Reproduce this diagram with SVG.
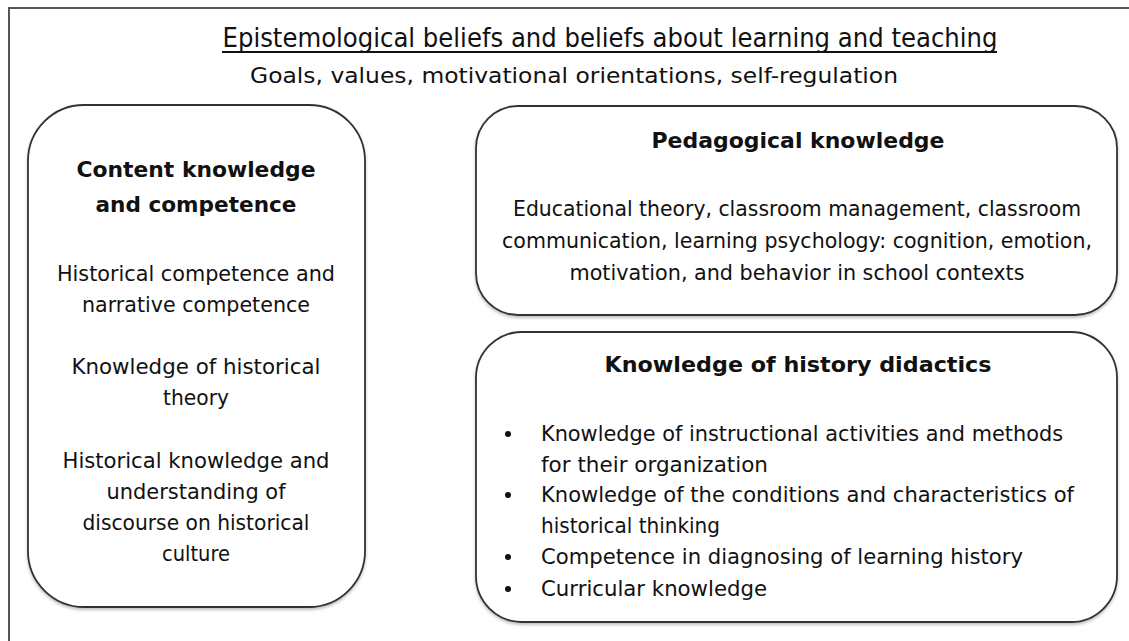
<svg xmlns="http://www.w3.org/2000/svg" width="1129" height="641" viewBox="0 0 1129 641">
  <defs>
    <filter id="soft" x="-5%" y="-5%" width="110%" height="115%">
      <feDropShadow dx="0" dy="2" stdDeviation="1.5" flood-color="#000" flood-opacity="0.25"/>
    </filter>
    <style>
      text { font-family: "DejaVu Sans", "Liberation Sans", sans-serif; fill: #111; }
      .title { font-size: 26px; }
      .sub { font-size: 21px; }
      .head { font-size: 22px; font-weight: bold; }
      .body { font-size: 21px; }
      .box { fill: #fff; stroke: #333; stroke-width: 1.8; filter: url(#soft); }
      .frame { fill: none; stroke: #555; stroke-width: 2; }
    </style>
  </defs>

  <rect width="1129" height="641" fill="#fff"/>

  <!-- outer frame, running off the right and bottom edges -->
  <path class="frame" d="M9,645 V8 H1135"/>

  <g id="header">
    <text class="title" x="610" y="47" text-anchor="middle" textLength="775" lengthAdjust="spacingAndGlyphs">Epistemological beliefs and beliefs about learning and teaching</text>
    <line x1="222" y1="52" x2="997" y2="52" stroke="#111" stroke-width="1.8"/>
    <text class="sub" x="574" y="83" text-anchor="middle" textLength="648" lengthAdjust="spacingAndGlyphs">Goals, values, motivational orientations, self-regulation</text>
  </g>

  <g id="content-knowledge">
    <rect class="box" x="28" y="105" width="337" height="502" rx="56" ry="56"/>
    <text class="head" x="196" y="177" text-anchor="middle" textLength="239" lengthAdjust="spacingAndGlyphs">Content knowledge</text>
    <text class="head" x="196" y="212" text-anchor="middle" textLength="201" lengthAdjust="spacingAndGlyphs">and competence</text>
    <text class="body" x="196" y="281" text-anchor="middle" textLength="278" lengthAdjust="spacingAndGlyphs">Historical competence and</text>
    <text class="body" x="196" y="312" text-anchor="middle" textLength="228" lengthAdjust="spacingAndGlyphs">narrative competence</text>
    <text class="body" x="196" y="374" text-anchor="middle" textLength="249" lengthAdjust="spacingAndGlyphs">Knowledge of historical</text>
    <text class="body" x="196" y="405" text-anchor="middle" textLength="66" lengthAdjust="spacingAndGlyphs">theory</text>
    <text class="body" x="196" y="468" text-anchor="middle" textLength="267" lengthAdjust="spacingAndGlyphs">Historical knowledge and</text>
    <text class="body" x="196" y="499" text-anchor="middle" textLength="179" lengthAdjust="spacingAndGlyphs">understanding of</text>
    <text class="body" x="196" y="530" text-anchor="middle" textLength="227" lengthAdjust="spacingAndGlyphs">discourse on historical</text>
    <text class="body" x="196" y="561" text-anchor="middle" textLength="68" lengthAdjust="spacingAndGlyphs">culture</text>
  </g>

  <g id="pedagogical-knowledge">
    <rect class="box" x="476" y="106" width="641" height="209" rx="42" ry="42"/>
    <text class="head" x="798" y="148" text-anchor="middle" textLength="293" lengthAdjust="spacingAndGlyphs">Pedagogical knowledge</text>
    <text class="body" x="797" y="216" text-anchor="middle" textLength="568" lengthAdjust="spacingAndGlyphs">Educational theory, classroom management, classroom</text>
    <text class="body" x="797" y="248" text-anchor="middle" textLength="590" lengthAdjust="spacingAndGlyphs">communication, learning psychology: cognition, emotion,</text>
    <text class="body" x="797" y="280" text-anchor="middle" textLength="455" lengthAdjust="spacingAndGlyphs">motivation, and behavior in school contexts</text>
  </g>

  <g id="history-didactics">
    <rect class="box" x="476" y="332" width="641" height="290" rx="46" ry="46"/>
    <text class="head" x="798" y="372" text-anchor="middle" textLength="387" lengthAdjust="spacingAndGlyphs">Knowledge of history didactics</text>
    <g fill="#111">
      <circle cx="508" cy="434" r="3"/>
      <circle cx="508" cy="495" r="3"/>
      <circle cx="508" cy="557" r="3"/>
      <circle cx="508" cy="589" r="3"/>
    </g>
    <text class="body" x="541" y="441" textLength="522" lengthAdjust="spacingAndGlyphs">Knowledge of instructional activities and methods</text>
    <text class="body" x="541" y="472" textLength="227" lengthAdjust="spacingAndGlyphs">for their organization</text>
    <text class="body" x="541" y="502" textLength="533" lengthAdjust="spacingAndGlyphs">Knowledge of the conditions and characteristics of</text>
    <text class="body" x="541" y="533" textLength="179" lengthAdjust="spacingAndGlyphs">historical thinking</text>
    <text class="body" x="541" y="564" textLength="482" lengthAdjust="spacingAndGlyphs">Competence in diagnosing of learning history</text>
    <text class="body" x="541" y="596" textLength="226" lengthAdjust="spacingAndGlyphs">Curricular knowledge</text>
  </g>
</svg>
